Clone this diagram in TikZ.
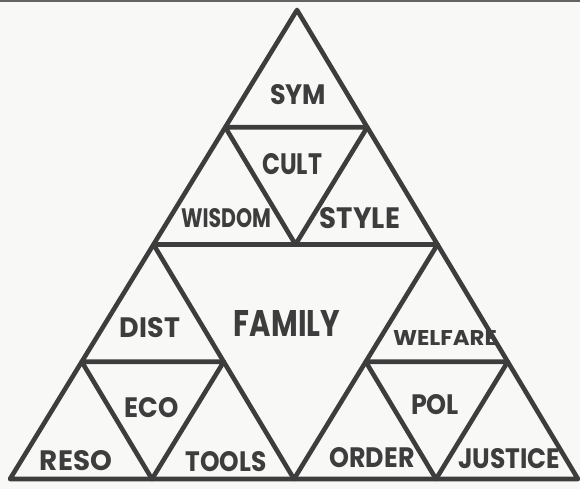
\documentclass[tikz,border=0pt]{standalone}
\usepackage{fontspec}
\usepackage{graphicx}
\setmainfont{Poppins}
\usetikzlibrary{calc}
\definecolor{ink}{HTML}{3D3D3D}
\definecolor{paper}{HTML}{F8F8F6}
\tikzset{
  edge/.style={draw=ink, line width=4.6pt, line join=round, line cap=round},
  lab/.style={text=ink, inner sep=0pt, font=\bfseries},
}
\newcommand{\fitlab}[3]{\resizebox{#1pt}{#2pt}{#3}}
\begin{document}
\begin{tikzpicture}[x=1pt, y=-1pt]
\useasboundingbox (0,0) rectangle (580,489);
\fill[paper] (0,0) rectangle (580,489);
\fill[ink!80] (0,0) rectangle (580,2.2);
% main vertices
\coordinate (A) at (297,10);
\coordinate (L) at (10,479);
\coordinate (R) at (578,479);
\coordinate (ML) at ($(A)!0.5!(L)$);
\coordinate (MR) at ($(A)!0.5!(R)$);
\coordinate (MB) at ($(L)!0.5!(R)$);
% top sub-triangle
\coordinate (a1) at ($(A)!0.5!(ML)$);
\coordinate (a2) at ($(A)!0.5!(MR)$);
\coordinate (a3) at ($(ML)!0.5!(MR)$);
% left sub-triangle
\coordinate (b1) at ($(ML)!0.5!(L)$);
\coordinate (b2) at ($(ML)!0.5!(MB)$);
\coordinate (b3) at ($(L)!0.5!(MB)$);
% right sub-triangle
\coordinate (c1) at ($(MR)!0.5!(MB)$);
\coordinate (c2) at ($(MR)!0.5!(R)$);
\coordinate (c3) at ($(MB)!0.5!(R)$);
\draw[edge] (A) -- (L) -- (R) -- cycle;
\draw[edge] (ML) -- (MR) -- (MB) -- cycle;
\draw[edge] (a1) -- (a2) -- (a3) -- cycle;
\draw[edge] (b1) -- (b2) -- (b3) -- cycle;
\draw[edge] (c1) -- (c2) -- (c3) -- cycle;
% labels
\node[lab] (sym) at (298,95) {\fitlab{56}{20}{SYM}};
\node[lab] (cult) at (292,164) {\fitlab{60}{21}{CULT}};
\node[lab] (wisdom) at (226,218) {\fitlab{90}{19}{WISDOM}};
\node[lab] (style) at (360,218) {\fitlab{80}{21}{STYLE}};
\node[lab] (family) at (287,323) {\fitlab{106}{26}{FAMILY}};
\node[lab] (dist) at (150,328) {\fitlab{60}{20}{DIST}};
\node[lab] (welfare) at (445,338) {\fitlab{104}{15}{WELFARE}};
\node[lab] (eco) at (152,408) {\fitlab{54}{20}{ECO}};
\node[lab] (pol) at (435,405) {\fitlab{48}{20}{POL}};
\node[lab] (reso) at (76,461) {\fitlab{72}{20}{RESO}};
\node[lab] (tools) at (226,462) {\fitlab{81}{20}{TOOLS}};
\node[lab] (order) at (372,458) {\fitlab{85}{20}{ORDER}};
\node[lab] (justice) at (509,459) {\fitlab{102}{20}{JUSTICE}};
\end{tikzpicture}
\end{document}
